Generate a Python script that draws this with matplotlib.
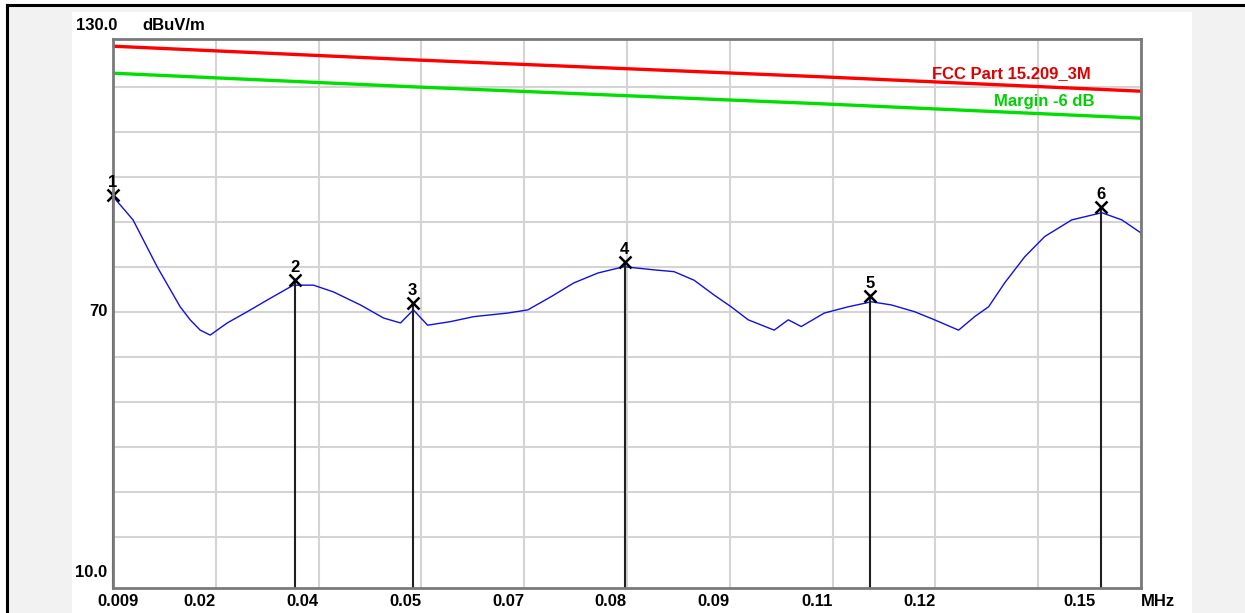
import numpy as np
import matplotlib
matplotlib.use('Agg')
import matplotlib.pyplot as plt
from matplotlib.patches import Rectangle
from matplotlib.lines import Line2D

freq = [0.0090, 0.01175, 0.01505, 0.01821, 0.01958, 0.02096, 0.02233, 0.02467,
        0.02742, 0.03016, 0.03374, 0.03649, 0.03923, 0.04294, 0.0461, 0.04844,
        0.0502, 0.05215, 0.05531, 0.05847, 0.06314, 0.06589, 0.06905, 0.07221,
        0.07551, 0.07908, 0.0832, 0.08595, 0.0887, 0.09145, 0.09378, 0.09612,
        0.09969, 0.10162, 0.1034, 0.10656, 0.10986, 0.11302, 0.11577, 0.11894,
        0.12168, 0.12498, 0.12718, 0.1291, 0.1313, 0.13405, 0.13679, 0.1405,
        0.14462, 0.14737, 0.1500]
level = [95.6, 90.4, 80.0, 71.1, 68.2, 65.9, 64.8, 67.5,
         70.0, 72.6, 75.9, 75.9, 74.4, 71.5, 68.6, 67.5,
         70.4, 67.0, 67.8, 68.9, 69.7, 70.4, 73.3, 76.4,
         78.6, 80.0, 79.3, 78.9, 77.0, 73.7, 71.1, 68.2,
         65.9, 68.2, 66.7, 69.7, 71.1, 72.2, 71.5, 70.0,
         68.2, 65.9, 68.9, 71.1, 76.4, 82.2, 86.7, 90.4,
         92.0, 90.4, 87.5]

# limit line and margin line
limit_freq = [0.009, 0.0512, 0.1062, 0.15]
limit_level = [129.0, 125.9, 122.2, 119.0]
margin_level = [123.0, 119.9, 116.2, 113.0]

# peak markers
marker_names = ['1', '2', '3', '4', '5', '6']
marker_freq = [0.009, 0.0340, 0.0501, 0.0792, 0.1128, 0.1445]
marker_level = [95.9, 77.0, 71.9, 81.1, 73.5, 93.3]

x_labels = ['0.02', '0.04', '0.05', '0.07', '0.08', '0.09', '0.11', '0.12']
f_start, f_stop = 0.009, 0.15
y_lo, y_hi = 8.6, 130.6

W, H = 1245, 613
fig = plt.figure(figsize=(W / 100, H / 100), dpi=100, facecolor='white')

# window frame
fig.patches.append(Rectangle((7 / W, 0), 1, (H - 5) / H, transform=fig.transFigure,
                             facecolor='#f2f2f2', edgecolor='none', zorder=-3))
fig.patches.append(Rectangle((72 / W, 0), (1192 - 72) / W, (H - 12) / H,
                             transform=fig.transFigure, facecolor='white',
                             edgecolor='none', zorder=-2))
fig.lines.append(Line2D([7 / W, 1], [(H - 5) / H] * 2, transform=fig.transFigure,
                        color='black', lw=2.2))
fig.lines.append(Line2D([7 / W] * 2, [0, (H - 5) / H], transform=fig.transFigure,
                        color='black', lw=2.2))

ax = fig.add_axes([113 / W, (H - 588) / H, (1141 - 113) / W, (588 - 39) / H])
ax.set_xlim(f_start, f_stop)
ax.set_ylim(y_lo, y_hi)
grid_x = np.linspace(f_start, f_stop, 11)
ax.set_xticks(grid_x)
ax.set_yticks(np.arange(20, 121, 10))
ax.tick_params(length=0, labelbottom=False, labelleft=False)
ax.grid(True, color='#d4d4d4', lw=1.5)
ax.set_axisbelow(True)
for s in ax.spines.values():
    s.set_color('#7a7a7a')
    s.set_linewidth(2)

font = dict(family=['Liberation Sans', 'DejaVu Sans'], weight='bold', size=12)

ax.plot(limit_freq, limit_level, color='#ff0000', lw=2.4)
ax.plot(limit_freq, margin_level, color='#00e000', lw=2.4)
ax.plot(freq, level, color='#1010e0', lw=1.0)

for name, f, v in zip(marker_names, marker_freq, marker_level):
    ax.plot([f, f], [y_lo, v], color='#202020', lw=1.5, clip_on=False)
    ax.plot(f, v, marker='x', color='black', ms=8, mew=1.8, clip_on=False)
    ax.annotate(name, (f, v), xytext=(0, 9), textcoords='offset points',
                ha='center', va='center', color='black', **font)

ax.text(0.1431, 123.0, 'FCC Part 15.209_3M', color='#e00000', ha='right',
        va='center', **font)
ax.text(0.1436, 116.8, 'Margin -6 dB', color='#00d000', ha='right',
        va='center', **font)

# y labels
fig.text(117 / W, 1 - 25 / H, '130.0', ha='right', va='center', **font)
fig.text(142 / W, 1 - 25 / H, 'dBuV/m', ha='left', va='center', **font)
ax.annotate('70', (f_start, 70), xytext=(-4, 0), textcoords='offset points',
            ha='right', va='center', **font)
ax.annotate('10.0', (f_start, 10), xytext=(-4, 1.5), textcoords='offset points',
            ha='right', va='bottom', **font)

# x labels
ax.annotate('0.009', (f_start, y_lo), xytext=(-11, -4), textcoords='offset points',
            ha='left', va='top', **font)
for lab, gx in zip(x_labels, grid_x[1:9]):
    ax.annotate(lab, (gx, y_lo), xytext=(0, -4), textcoords='offset points',
                ha='right', va='top', **font)
ax.annotate('0.15', (0.1438, y_lo), xytext=(0, -4), textcoords='offset points',
            ha='right', va='top', **font)
ax.annotate('MHz', (f_stop, y_lo), xytext=(0, -4), textcoords='offset points',
            ha='left', va='top', **font)

fig.savefig('out.png', dpi=100, facecolor=fig.get_facecolor())
